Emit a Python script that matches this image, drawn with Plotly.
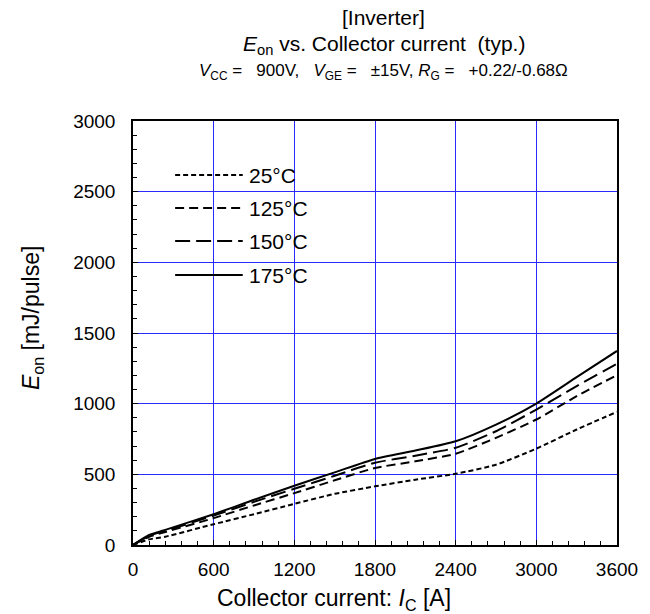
import plotly.graph_objects as go

# Turn-on switching energy vs collector current at four junction temperatures
current_a = [0, 120, 240, 600, 900, 1200, 1500, 1800, 2100, 2400, 2700, 3000, 3300, 3600]
eon_25 = [0, 40, 59, 147, 218, 291, 362, 415, 462, 504, 568, 682, 817, 942]
eon_125 = [0, 58, 92, 190, 280, 367, 458, 545, 592, 646, 758, 888, 1053, 1202]
eon_150 = [0, 65, 100, 208, 305, 398, 490, 582, 632, 688, 805, 958, 1124, 1282]
eon_175 = [0, 71, 107, 218, 320, 419, 514, 609, 668, 734, 852, 1001, 1188, 1373]

series_labels = ["25°C", "125°C", "150°C", "175°C"]
series_values = [eon_25, eon_125, eon_150, eon_175]
series_dash = ["5px,3px", "9px,5px", "15px,6px", "solid"]

x_ticks = [0, 600, 1200, 1800, 2400, 3000, 3600]
y_ticks = [0, 500, 1000, 1500, 2000, 2500, 3000]

FONT = "Liberation Sans, Arial, sans-serif"
GRID = "#2a2aff"

fig = go.Figure()
for label, vals, dash in zip(series_labels, series_values, series_dash):
    fig.add_trace(go.Scatter(
        x=current_a, y=vals, mode="lines", name=label,
        line=dict(color="black", width=2, dash=dash, shape="spline", smoothing=0.6),
        showlegend=False, hoverinfo="skip",
    ))

# Page geometry (pixels) and helpers for paper coordinates
L, R, T, B = 133, 627, 121, 545
W, H = 650, 614
def px(x):
    return (x - L) / (R - L)
def py(y):
    return (B - y) / (B - T)

# Hand-drawn legend inside the plot area
legend_rows = [175, 208, 241, 275]
shapes = []
annotations = []
for label, dash, yrow in zip(series_labels, series_dash, legend_rows):
    shapes.append(dict(type="line", xref="paper", yref="paper",
                       x0=px(176), x1=px(245), y0=py(yrow), y1=py(yrow),
                       line=dict(color="black", width=2, dash=dash)))
    annotations.append(dict(xref="paper", yref="paper", x=px(249), y=py(yrow),
                            text=label, showarrow=False, xanchor="left", yanchor="middle",
                            font=dict(size=21, color="black", family=FONT)))

# Three-line heading
heading = [
    ("[Inverter]", 18, 21),
    ("<i>E</i><sub>on</sub> vs. Collector current \u00a0(typ.)", 45, 21),
    ("<i>V</i><sub>CC</sub> = \u00a0\u00a0900V, \u00a0\u00a0<i>V</i><sub>GE</sub> = \u00a0\u00a0±15V, "
     "<i>R</i><sub>G</sub> = \u00a0\u00a0+0.22/-0.68Ω", 72, 17),
]
for text, ypix, size in heading:
    annotations.append(dict(xref="paper", yref="paper", x=px(389), y=py(ypix),
                            text=text, showarrow=False, xanchor="center", yanchor="middle",
                            font=dict(size=size, color="black", family=FONT)))

# Axis titles
annotations.append(dict(xref="paper", yref="paper", x=px(338), y=py(599),
                        text="Collector current: <i>I</i><sub>C</sub> [A]",
                        showarrow=False, xanchor="center", yanchor="middle",
                        font=dict(size=23, color="black", family=FONT)))
annotations.append(dict(xref="paper", yref="paper", x=px(30), y=py(318),
                        text="<i>E</i><sub>on</sub> [mJ/pulse]", textangle=-90,
                        showarrow=False, xanchor="center", yanchor="middle",
                        font=dict(size=23, color="black", family=FONT)))

fig.update_layout(
    width=W, height=H,
    margin=dict(l=L, r=W - R, t=T, b=H - B, pad=0),
    plot_bgcolor="white", paper_bgcolor="white",
    font=dict(family=FONT, size=19, color="black"),
    shapes=shapes, annotations=annotations,
    showlegend=False,
)
fig.update_xaxes(
    range=[0, 3600], tickvals=x_ticks, ticktext=[str(v) for v in x_ticks],
    showgrid=True, gridcolor=GRID, gridwidth=1, zeroline=False,
    showline=True, linecolor="black", linewidth=1.5, mirror=True,
    ticks="inside", ticklen=5, tickcolor="black",
    minor=dict(dtick=120, ticks="inside", ticklen=4, tickcolor="black", showgrid=False),
    tickfont=dict(size=19), ticklabelstandoff=6, ticklabeloverflow="allow",
)
fig.update_yaxes(
    range=[0, 3000], tickvals=y_ticks, ticktext=[str(v) for v in y_ticks],
    showgrid=True, gridcolor=GRID, gridwidth=1, zeroline=False,
    showline=True, linecolor="black", linewidth=1.5, mirror=True,
    ticks="inside", ticklen=5, tickcolor="black",
    minor=dict(dtick=100, ticks="inside", ticklen=4, tickcolor="black", showgrid=False),
    tickfont=dict(size=19), ticklabelstandoff=12, ticklabeloverflow="allow",
)

fig.write_html("out.html")
